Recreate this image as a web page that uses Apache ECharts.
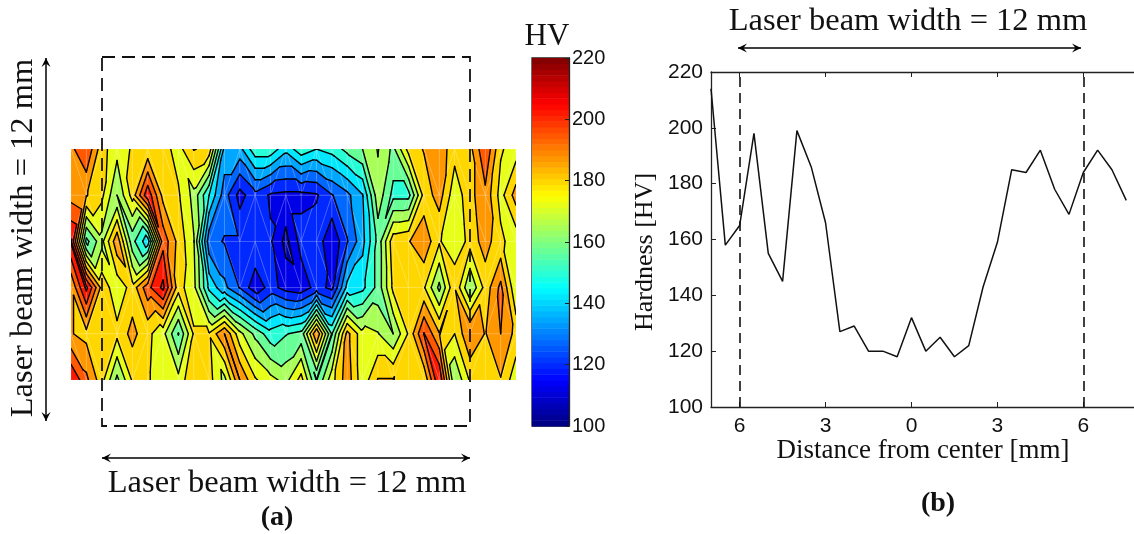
<!DOCTYPE html>
<html><head><meta charset="utf-8">
<style>html,body{margin:0;padding:0;background:#fff}#c{width:1134px;height:534px}</style>
<script src="https://cdn.jsdelivr.net/npm/echarts@6/dist/echarts.min.js"></script>
</head><body><div id="c"></div>
<script>
// ---- data ----
const xMm = [-7,-6.5,-6,-5.5,-5,-4.5,-4,-3.5,-3,-2.5,-2,-1.5,-1,-0.5,0,0.5,1,1.5,2,2.5,3,3.5,4,4.5,5,5.5,6,6.5,7,7.5];
const yMm = [0,1.5,3,4.5,6,7.5];
const row0 = [188,197,178,170,176,177,178,172,183,180,135,135,150,150,140,150,145,148,155,160,168,158,178,183,187,178,180,197,176,171];
const row1 = [187,183,177,160,178,203,180,176,165,145,126,112,120,114,113,113,114,122,128,137,165,150,150,178,186,170,180,188,172,186];
const row2 = [206,150,165,188,155,140,195,180,168,125,122,122,122,116,105,118,120,108,122,135,155,180,182,188,176,168,178,186,177,170];
const row3 = [183,207,180,170,178,195,207,178,170,143,132,122,110,118,112,110,118,113,140,143,155,177,176,176,158,182,160,178,192,168];
const row4 = [183,180,177,177,185,177,170,152,176,176,190,170,158,148,152,155,190,152,185,170,168,160,176,198,183,175,190,182,190,180];
const row5 = [205,192,178,158,176,176,170,170,182,178,165,190,176,170,165,178,152,172,187,170,183,183,175,176,205,160,176,182,182,170];
const rows = [row0,row1,row2,row3,row4,row5];
const profile = [214,158,165,198,155,145,199,186,166,127,129,120,120,118,132,120,125,118,122,143,159,185,184,192,178,169,184,192,185,174];
const hvTicks = [100,120,140,160,180,200,220];
const distTicks = [-6,-3,0,3,6];
const beamEdges = [-6,6];
const contourStep = 7.5;
const serif = '"Liberation Serif"', sans = '"Liberation Sans"';

function jet(v){
  let t=(v-100)/120; t=Math.max(0,Math.min(1,t));
  t=(Math.floor(t*64)+0.5)/64;
  const c=x=>Math.round(255*Math.max(0,Math.min(1,x)));
  return `rgb(${c(1.5-Math.abs(4*t-3))},${c(1.5-Math.abs(4*t-2))},${c(1.5-Math.abs(4*t-1))})`;
}
const tris=[];
for(let r=0;r<yMm.length-1;r++)for(let c=0;c<xMm.length-1;c++){
  const P=(rr,cc)=>[xMm[cc],yMm[rr],rows[rr][cc]];
  const a=P(r,c),b=P(r,c+1),d=P(r+1,c),e=P(r+1,c+1);
  if(Math.abs(a[2]-e[2])<=Math.abs(b[2]-d[2])){tris.push([...a,...b,...e],[...a,...e,...d]);}
  else{tris.push([...a,...b,...d],[...b,...e,...d]);}
}
function clip(poly,lev,keepAbove){
  const out=[];
  for(let i=0;i<poly.length;i++){
    const p=poly[i],q=poly[(i+1)%poly.length];
    const pin=keepAbove?p[2]>=lev:p[2]<=lev, qin=keepAbove?q[2]>=lev:q[2]<=lev;
    if(pin)out.push(p);
    if(pin!==qin){const t=(lev-p[2])/(q[2]-p[2]);out.push([p[0]+t*(q[0]-p[0]),p[1]+t*(q[1]-p[1]),lev]);}
  }
  return out;
}
function triVerts(api){return [0,3,6].map(k=>[api.value(k),api.value(k+1),api.value(k+2)]);}
const px=(api,p)=>api.coord([p[0],p[1]]);
function renderFill(params,api){
  const T=triVerts(api),children=[];
  for(let lo=100;lo<220;lo+=contourStep){
    let poly=clip(T,lo,true); if(poly.length<3)continue;
    poly=clip(poly,lo+contourStep,false); if(poly.length<3)continue;
    const col=jet(lo+contourStep/2);
    children.push({type:'polygon',shape:{points:poly.map(p=>px(api,p))},style:{fill:col,stroke:col,lineWidth:0.6},silent:true});
  }
  return {type:'group',children};
}
function renderMesh(params,api){
  const T=triVerts(api);
  return {type:'polygon',shape:{points:T.map(p=>px(api,p))},style:{fill:'none',stroke:'rgba(255,255,255,0.18)',lineWidth:0.7},silent:true};
}
function renderLines(params,api){
  const T=triVerts(api),children=[];
  for(let lev=100+contourStep;lev<220;lev+=contourStep){
    const pts=[];
    for(let i=0;i<3;i++){
      const p=T[i],q=T[(i+1)%3];
      if((p[2]<lev)!==(q[2]<lev)){const t=(lev-p[2])/(q[2]-p[2]);pts.push([p[0]+t*(q[0]-p[0]),p[1]+t*(q[1]-p[1])]);}
    }
    if(pts.length===2){const a=px(api,pts[0]),b=px(api,pts[1]);
      children.push({type:'line',shape:{x1:a[0],y1:a[1],x2:b[0],y2:b[1]},style:{stroke:'#000',lineWidth:1.4,lineCap:'round'},silent:true});}
  }
  return {type:'group',children};
}
const triEnc={x:[0,3,6],y:[1,4,7]};
const barLevels=[];for(let i=0;i<64;i++)barLevels.push(100+i*120/64);
function renderBar(params,api){
  const a=api.coord([0,api.value(0)]),b=api.coord([1,api.value(0)+120/64]);
  return {type:'rect',shape:{x:a[0],y:b[1],width:b[0]-a[0],height:a[1]-b[1]+0.5},style:{fill:jet(api.value(0)+0.9)},silent:true};
}
const txt=(text,x,y,size,o={})=>({type:'text',x,y,rotation:o.rot||0,z:20,style:{text,fontFamily:o.font||serif,fontSize:size,fontWeight:o.w||'normal',fill:'#111',align:'center',verticalAlign:'middle'},silent:true});
const arrow=(x1,y1,x2,y2)=>{
  const h=x1===x2,s=9,w=4.5,res=[{type:'line',z:20,shape:{x1,y1,x2,y2},style:{stroke:'#000',lineWidth:1.5},silent:true}];
  const head=(x,y,dx,dy)=>({type:'polygon',z:20,shape:{points:[[x,y],[x-dx*s+dy*w,y-dy*s+dx*w],[x-dx*s*0.6,y-dy*s*0.6],[x-dx*s-dy*w,y-dy*s-dx*w]]},style:{fill:'#000'},silent:true});
  if(h){res.push(head(x1,y1,0,-1),head(x2,y2,0,1));}else{res.push(head(x1,y1,-1,0),head(x2,y2,1,0));}
  return res;
};
const fsize=32.5;
const hvMin=hvTicks[0],hvMax=hvTicks[hvTicks.length-1];
const option={
  animation:false,backgroundColor:'#fff',
  graphic:{elements:[
    {type:'rect',z:19,shape:{x:102,y:57,width:368,height:369},style:{fill:'none',stroke:'#111',lineWidth:1.8,lineDash:[13,7]},silent:true},
    {type:'rect',z:1,shape:{x:532,y:58,width:37,height:368},style:{fill:'none',stroke:'#222',lineWidth:1.3},silent:true},
    ...arrow(46,58,46,421),...arrow(102,458,470,458),...arrow(738,48,1081,48),
    txt('Laser beam width = 12 mm',23,238,fsize,{rot:Math.PI/2}),
    txt('Laser beam width = 12 mm',287,483,fsize),
    txt('Laser beam width = 12 mm',908,21,fsize),
    txt('(a)',277,518,28,{w:'bold'}),
    txt('(b)',938,504,28,{w:'bold'}),
    txt('HV',547,37,31),
    txt('Hardness [HV]',645,252,26,{rot:Math.PI/2}),
    txt('Distance from center [mm]',923,451,27)
  ]},
  grid:[
    {left:71,top:149,width:445,height:231},
    {left:532,top:58,width:37,height:368},
    {left:711,top:72,width:423,height:335}
  ],
  xAxis:[
    {gridIndex:0,type:'value',min:-7,max:7.5,show:false},
    {gridIndex:1,type:'value',min:0,max:1,show:false},
    {gridIndex:2,type:'value',min:-7,max:7.77,position:'bottom',
      axisLine:{onZero:false,lineStyle:{color:'#222',width:1.3}},
      axisTick:{inside:true,length:5,customValues:distTicks,lineStyle:{color:'#222'}},
      axisLabel:{customValues:distTicks,formatter:v=>String(Math.abs(v)),fontFamily:sans,fontSize:21,color:'#111',margin:9},
      splitLine:{show:false}},
    {gridIndex:2,type:'value',min:-7,max:7.77,position:'top',
      axisLine:{onZero:false,lineStyle:{color:'#222',width:1.3}},
      axisTick:{inside:true,length:5,customValues:distTicks,lineStyle:{color:'#222'}},
      axisLabel:{show:false},splitLine:{show:false}}
  ],
  yAxis:[
    {gridIndex:0,type:'value',min:0,max:7.5,inverse:true,show:false},
    {gridIndex:1,type:'value',min:hvMin,max:hvMax,interval:20,position:'right',z:10,
      axisLine:{show:true,onZero:false,lineStyle:{color:'#222',width:1.3}},
      axisTick:{inside:true,length:4,lineStyle:{color:'#222'}},
      axisLabel:{fontFamily:sans,fontSize:20,color:'#111',margin:3},splitLine:{show:false}},
    {gridIndex:2,type:'value',min:hvMin,max:hvMax,interval:20,position:'left',
      axisLine:{show:true,onZero:false,lineStyle:{color:'#222',width:1.3}},
      axisTick:{show:true,inside:true,length:5,lineStyle:{color:'#222'}},
      axisLabel:{fontFamily:sans,fontSize:21,color:'#111',margin:8},splitLine:{show:false}}
  ],
  series:[
    {type:'custom',xAxisIndex:0,yAxisIndex:0,z:2,data:tris,encode:triEnc,renderItem:renderFill,clip:true,silent:true},
    {type:'custom',xAxisIndex:0,yAxisIndex:0,z:3,data:tris,encode:triEnc,renderItem:renderMesh,clip:true,silent:true},
    {type:'custom',xAxisIndex:0,yAxisIndex:0,z:4,data:tris,encode:triEnc,renderItem:renderLines,clip:true,silent:true},
    {type:'custom',xAxisIndex:1,yAxisIndex:1,z:2,data:barLevels.map(v=>[v]),encode:{y:0},renderItem:renderBar,silent:true},
    {type:'line',xAxisIndex:2,yAxisIndex:2,data:xMm.map((x,i)=>[x,profile[i]]),showSymbol:false,symbol:'none',lineStyle:{color:'#111',width:1.5},silent:true,
      markLine:{silent:true,symbol:'none',label:{show:false},lineStyle:{color:'#111',type:[10,6],width:1.6},data:beamEdges.map(x=>({xAxis:x}))}}
  ]
};
const chart=echarts.init(document.getElementById('c'),null,{renderer:'canvas'});
chart.setOption(option);
</script></body></html>
